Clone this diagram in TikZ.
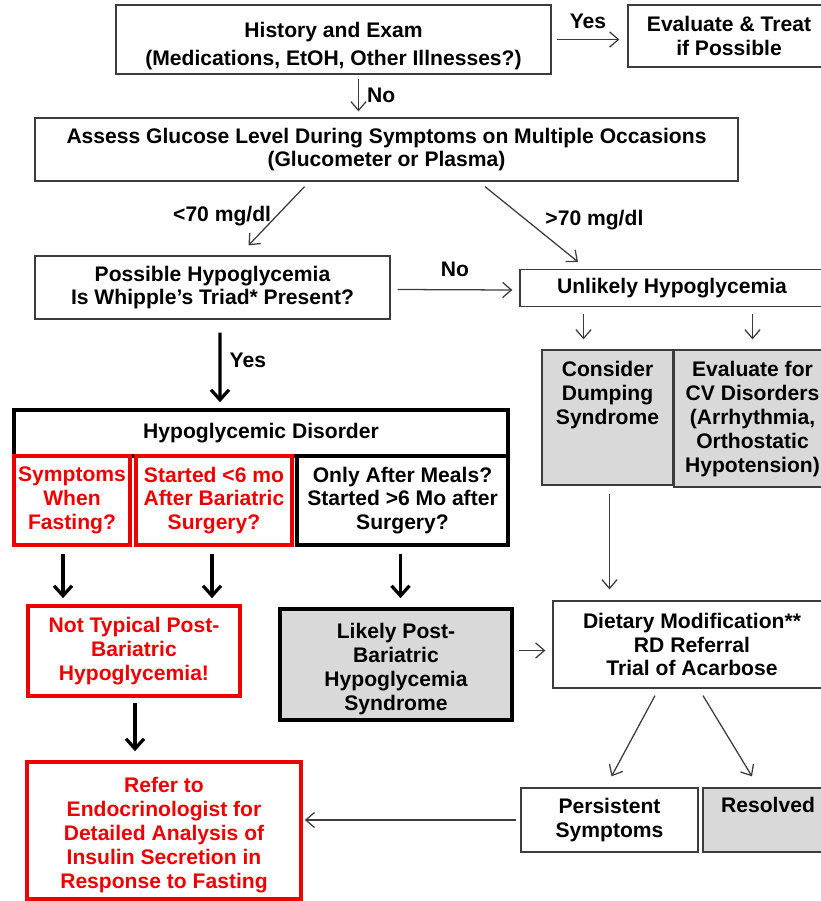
\documentclass[tikz,border=0pt]{standalone}
\usepackage{fontspec}
\setmainfont{Liberation Sans}
\usetikzlibrary{positioning,calc,arrows.meta}

\definecolor{boxgray}{RGB}{217,217,217}
\definecolor{linegray}{RGB}{60,60,60}
\definecolor{alarmred}{RGB}{237,0,0}

\tikzset{
  box/.style={draw=linegray, line width=0.9pt, inner sep=0pt, align=center},
  thickbox/.style={draw=black, line width=2.6pt, inner sep=0pt, align=center},
  redbox/.style={draw=alarmred, line width=2.6pt, inner sep=0pt, align=center, text=alarmred},
  txt/.style={inner sep=0pt, align=center},
  thin arrow/.style={draw=linegray, line width=0.9pt, -{Straight Barb[length=0.22cm,width=0.38cm]}},
  thick arrow/.style={draw=black, line width=2.3pt, -{Straight Barb[length=0.25cm,width=0.45cm]}},
  lbl/.style={inner sep=0pt}
}

\begin{document}
\begin{tikzpicture}[x=0.025cm, y=-0.025cm,
  every node/.append style={font=\fontsize{15}{17}\selectfont\bfseries}]
\useasboundingbox (0,0) rectangle (821,901);

%Obere Reihe
\node[box, minimum width=435*0.025cm, minimum height=69*0.025cm] (hist) at (333.5,39.5) {};
\node[txt, below=0.43cm of hist.north] (histtxt)
  {History and Exam\\[3pt](Medications, EtOH, Other Illnesses?)};
\node[box, minimum width=202*0.025cm, minimum height=62*0.025cm] (evt) at (729,36)
  {Evaluate \& Treat\\if Possible};
\node[box, minimum width=703*0.025cm, minimum height=63*0.025cm] (assess) at (386.5,149.5)
  {Assess Glucose Level During Symptoms on Multiple Occasions\\(Glucometer or Plasma)};
\node[box, minimum width=355*0.025cm, minimum height=63*0.025cm] (poss) at (212.5,287.5)
  {Possible Hypoglycemia\\Is Whipple’s Triad* Present?};
\node[box, minimum width=304*0.025cm, minimum height=37*0.025cm] (unl) at (672,288)
  {Unlikely Hypoglycemia};

%Graue Kaesten rechts
\node[box, fill=boxgray, minimum width=131*0.025cm, minimum height=135*0.025cm] (dump) at (607.5,417.5) {};
\node[txt, below=0.3cm of dump.north] (dumptxt) {Consider\\Dumping\\Syndrome};
\node[box, fill=boxgray, minimum width=157*0.025cm, minimum height=137*0.025cm] (cv) at (752.5,418.5) {};
\node[txt, below=0.3cm of cv.north] (cvtxt)
  {Evaluate for\\CV Disorders\\(Arrhythmia,\\Orthostatic\\Hypotension)};

%Hypoglykaemie
\node[thickbox, minimum width=494*0.025cm, minimum height=46*0.025cm] (hyp) at (261,433)
  {Hypoglycemic Disorder};
\node[redbox, minimum width=116*0.025cm, minimum height=89*0.025cm] (fast) at (72,500.5)
  {Symptoms\\When\\Fasting?};
\node[redbox, minimum width=156*0.025cm, minimum height=89*0.025cm] (early) at (214,500.5)
  {Started <6 mo\\After Bariatric\\Surgery?};
\node[thickbox, minimum width=211*0.025cm, minimum height=89*0.025cm] (meals) at (402.5,500.5)
  {Only After Meals?\\Started >6 Mo after\\Surgery?};

%Untere Reihe
\node[redbox, minimum width=212*0.025cm, minimum height=90*0.025cm] (nottyp) at (134,651)
  {Not Typical Post-\\Bariatric\\Hypoglycemia!};
\node[thickbox, fill=boxgray, minimum width=232*0.025cm, minimum height=111*0.025cm] (likely) at (396,664.5) {};
\node[txt, below=0.39cm of likely.north] (likelytxt)
  {Likely Post-\\Bariatric\\Hypoglycemia\\Syndrome};
\node[box, minimum width=278*0.025cm, minimum height=87*0.025cm] (diet) at (692,644.5)
  {Dietary Modification**\\RD Referral\\Trial of Acarbose};
\node[box, minimum width=177*0.025cm, minimum height=64*0.025cm] (pers) at (609.5,820)
  {Persistent\\Symptoms};
\node[box, fill=boxgray, minimum width=130*0.025cm, minimum height=64*0.025cm] (res) at (768,820) {};
\node[txt, below=0.25cm of res.north] (restxt) {Resolved};
\node[redbox, minimum width=274*0.025cm, minimum height=137*0.025cm] (refer) at (164,830.5) {};
\node[txt, text=alarmred, below=0.43cm of refer.north] (refertxt)
  {Refer to\\Endocrinologist for\\Detailed Analysis of\\Insulin Secretion in\\Response to Fasting};

%Duenne Pfeile
\draw[thin arrow] ($(hist.east)+(5,0)$) -- ($(evt.west |- hist.east)+(-8,0)$)
  node[lbl, midway, above=0.25cm] (yes1) {Yes};
\draw[thin arrow] ($(hist.south)+(25,4)$) -- ($(hist.south |- assess.north)+(25,-6)$)
  node[lbl, midway, right=0.2cm] (no1) {No};
\draw[thin arrow] ($(assess.south)+(-82,5)$) -- ($(poss.north)+(36,-10)$)
  node[lbl, pos=0.5, left=0.12cm] (low) {<70 mg/dl};
\draw[thin arrow] ($(assess.south)+(98.5,5)$) -- ($(unl.north)+(-94,-7)$)
  node[lbl, pos=0.45, right=0.45cm] (high) {>70 mg/dl};
\draw[thin arrow] ($(poss.east)+(7,2)$) -- ($(unl.west)+(-7,2)$)
  node[lbl, midway, above=0.3cm] (no2) {No};
\draw[thin arrow] ($(unl.south -| dump.north)+(-24,7)$) -- ($(dump.north)+(-24,-10)$);
\draw[thin arrow] ($(unl.south -| cv.north)+(0,7)$) -- ($(cv.north)+(0,-10)$);
\draw[thin arrow] ($(dump.south)+(2,8)$) -- ($(dump.south |- diet.north)+(2,-11)$);
\draw[thin arrow] ($(likely.east)+(5,-14)$) -- ($(diet.west |- likely.east)+(-7,-14)$);
\draw[thin arrow] ($(diet.south)+(-37,7)$) -- ($(pers.north)+(2,-11)$);
\draw[thin arrow] ($(diet.south)+(11,7)$) -- ($(res.north)+(-16,-11)$);
\draw[thin arrow] ($(pers.west)+(-4,0)$) -- ($(refer.east |- pers.west)+(2,0)$);

%Dicke Pfeile
\draw[thick arrow] ($(poss.south)+(7.5,13)$) -- ($(hyp.north)+(-41,-6)$)
  node[lbl, pos=0.4, right=0.2cm] (yes2) {Yes};
\draw[thick arrow] ($(fast.south)+(-9,7)$) -- ($(fast.south |- nottyp.north)+(-9,-6)$);
\draw[thick arrow] ($(early.south)+(-2,7)$) -- ($(early.south |- nottyp.north)+(-2,-6)$);
\draw[thick arrow] ($(meals.south)+(-2,7)$) -- ($(meals.south |- likely.north)+(-2,-9)$);
\draw[thick arrow] ($(nottyp.south)+(1,5)$) -- ($(refer.north)+(-29,-9)$);

\end{tikzpicture}
\end{document}
